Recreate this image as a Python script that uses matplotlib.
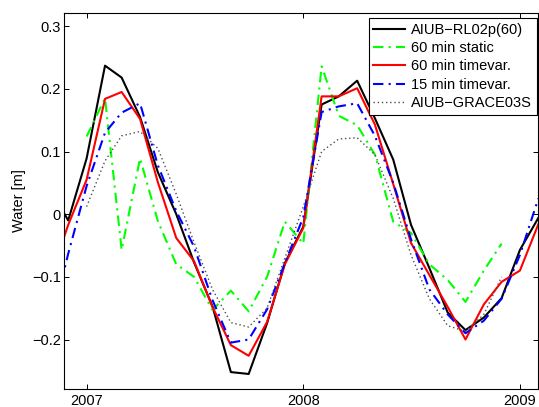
import matplotlib
matplotlib.use("Agg")
import matplotlib.pyplot as plt
import pandas as pd

plt.rcParams['font.family'] = ['Liberation Sans', 'DejaVu Sans']

# monthly epochs (first of month)
months_main = ['2006-11', '2006-12',
               '2007-01', '2007-02', '2007-03', '2007-04', '2007-05', '2007-06',
               '2007-07', '2007-08', '2007-09', '2007-10', '2007-11', '2007-12',
               '2008-01', '2008-02', '2008-03', '2008-04', '2008-05', '2008-06',
               '2008-07', '2008-08', '2008-09', '2008-10', '2008-11', '2008-12',
               '2009-01', '2009-02']
months_short = ['2007-01', '2007-02', '2007-03', '2007-04', '2007-05', '2007-06',
                '2007-07', '2007-08', '2007-09', '2007-10', '2007-11', '2007-12',
                '2008-01', '2008-02', '2008-03', '2008-04', '2008-05', '2008-06',
                '2008-07', '2008-08', '2008-09', '2008-10', '2008-11', '2008-12']

aiub_rl02p = [0.040, -0.010, 0.089, 0.237, 0.218, 0.155, 0.067, 0.000, -0.077, -0.147,
              -0.252, -0.255, -0.174, -0.078, -0.020, 0.175, 0.188, 0.213, 0.153, 0.087,
              -0.017, -0.086, -0.157, -0.185, -0.165, -0.134, -0.057, -0.006]
static_60 = [0.124, 0.185, -0.057, 0.089, -0.011, -0.080, -0.100, -0.153, -0.122, -0.155,
             -0.100, -0.012, -0.047, 0.236, 0.157, 0.142, 0.095, -0.012, -0.030, -0.080,
             -0.105, -0.140, -0.090, -0.047]
timevar_60 = [-0.100, -0.017, 0.055, 0.184, 0.195, 0.152, 0.051, -0.038, -0.075, -0.148,
              -0.209, -0.226, -0.172, -0.080, -0.022, 0.188, 0.188, 0.201, 0.143, 0.048,
              -0.046, -0.097, -0.148, -0.200, -0.144, -0.108, -0.090, -0.016]
timevar_15 = [-0.180, -0.063, 0.045, 0.130, 0.162, 0.177, 0.078, 0.005, -0.052, -0.137,
              -0.205, -0.200, -0.152, -0.078, -0.005, 0.163, 0.172, 0.177, 0.125, 0.050,
              -0.040, -0.120, -0.160, -0.190, -0.170, -0.135, -0.065, 0.025]
grace03s = [0.012, 0.085, 0.125, 0.132, 0.105, 0.032, -0.045, -0.120, -0.173, -0.180,
            -0.150, -0.070, 0.012, 0.100, 0.120, 0.122, 0.095, 0.025, -0.065, -0.135,
            -0.178, -0.187, -0.160, -0.100]

labels = ['AIUB\u2212RL02p(60)', '60 min static', '60 min timevar.', '15 min timevar.',
          'AIUB\u2212GRACE03S']
yticks = [-0.2, -0.1, 0, 0.1, 0.2, 0.3]
xticks = [2007, 2008, 2009]


def decyear(months):
    d = pd.to_datetime(months)
    ndays = [366 if x.is_leap_year else 365 for x in d]
    return [x.year + (x.dayofyear - 1) / n for x, n in zip(d, ndays)]


xm = decyear(months_main)
xs = decyear(months_short)

fig = plt.figure(figsize=(5.39, 4.07), dpi=100)
ax = fig.add_axes([0.1193, 0.0442, 0.8787, 0.9238])

ax.plot(xm, aiub_rl02p, color='black', lw=1.5, label=labels[0])
ax.plot(xs, static_60, color='#00ff00', lw=1.5, dashes=(5, 2.5, 1, 2.5), label=labels[1])
ax.plot(xm, timevar_60, color='#ff0000', lw=1.5, label=labels[2])
ax.plot(xm, timevar_15, color='#0000ff', lw=1.5, dashes=(5, 2.5, 1, 2.5), label=labels[3])
ax.plot(xs, grace03s, color='0.3', lw=1.0, dashes=(1, 2), label=labels[4])

ax.set_xlim(2006.897, 2009.083)
ax.set_ylim(-0.279, 0.321)
ax.set_xticks(xticks)
ax.set_xticklabels([str(t) for t in xticks])
ax.set_yticks(yticks)
ax.set_yticklabels(['\u22120.2', '\u22120.1', '0', '0.1', '0.2', '0.3'])
ax.tick_params(direction='in', length=3.6, width=0.7, top=True, right=True,
               labelsize=10.5, colors='black')
ax.tick_params(axis='y', pad=2.5)
ax.tick_params(axis='x', pad=3.5)
for s in ax.spines.values():
    s.set_linewidth(0.8)

ax.set_ylabel('Water [m]', fontsize=10.5)
ax.yaxis.set_label_coords(-0.081, 0.5)

leg = ax.legend(loc='upper right', bbox_to_anchor=(0.997, 0.986), borderaxespad=0,
                fontsize=10.5, fancybox=False, frameon=True, edgecolor='black',
                framealpha=1, handlelength=2.2, handletextpad=0.4, labelspacing=0.3,
                borderpad=0.3)
leg.get_frame().set_linewidth(0.8)

fig.savefig('out.png', dpi=100)
